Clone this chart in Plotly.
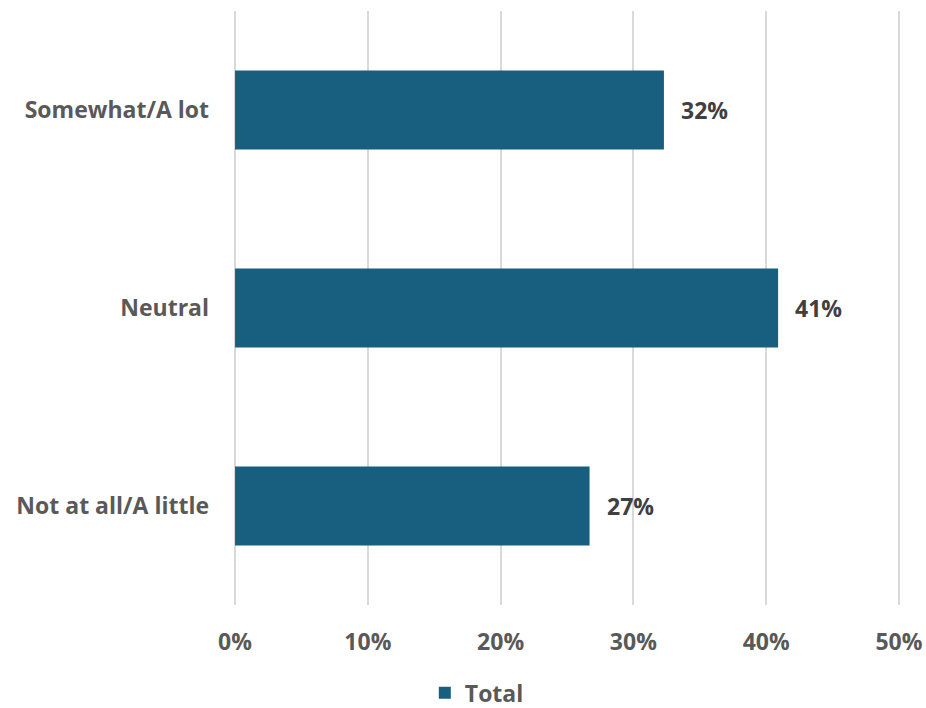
import plotly.graph_objects as go

categories = ["Not at all/A little", "Neutral", "Somewhat/A lot"]
values = [0.267, 0.409, 0.323]
labels = ["27%", "41%", "32%"]
x_ticks = [0, 0.1, 0.2, 0.3, 0.4, 0.5]
x_ticklabels = ["0%", "10%", "20%", "30%", "40%", "50%"]

BAR = "#175e7f"
FONT = "Open Sans"
SIZE = 23

fig = go.Figure()
fig.add_trace(go.Bar(
    y=categories, x=values, orientation="h", name="Total",
    marker=dict(color=BAR, line=dict(width=0)),
    hoverinfo="skip",
))

for c, v, t in zip(categories, values, labels):
    fig.add_annotation(x=v, y=c, text=t, showarrow=False, xanchor="left",
                       xshift=15, font=dict(family=FONT, size=SIZE, color="#404040", weight="bold"))

fig.update_layout(
    width=926, height=708,
    margin=dict(l=234, r=26, t=11, b=103, autoexpand=False),
    paper_bgcolor="white", plot_bgcolor="white",
    bargap=0.6,
    font=dict(family=FONT, size=SIZE, color="#595959", weight="bold"),
    xaxis=dict(range=[-0.0008, 0.5008], tickvals=x_ticks, ticktext=x_ticklabels,
               showgrid=True, gridcolor="#d9d9d9", gridwidth=2,
               zeroline=False, showline=False, ticks="", automargin=False,
               ticklabelstandoff=21,
               tickfont=dict(family=FONT, size=SIZE, color="#595959", weight="bold")),
    yaxis=dict(showgrid=False, zeroline=False, showline=False, ticks="", automargin=False,
               ticklabelstandoff=24,
               tickfont=dict(family=FONT, size=SIZE, color="#595959", weight="bold")),
    showlegend=True,
    legend=dict(orientation="h", x=0.2865, xanchor="left", y=-0.148, yanchor="middle",
                font=dict(family=FONT, size=SIZE, color="#595959", weight="bold")),
)

fig.write_html("out.html", config={"displayModeBar": False},
               post_script="document.body.style.margin='0';")
